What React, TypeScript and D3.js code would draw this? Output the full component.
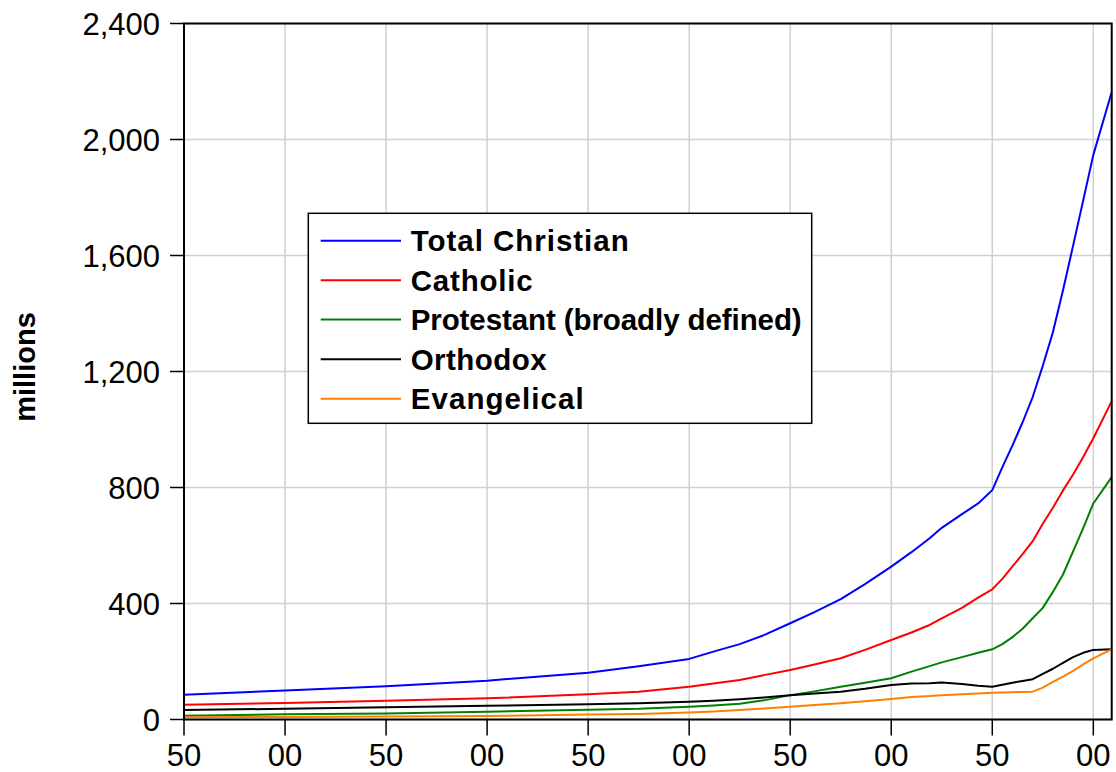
import React from "react";
import * as d3 from "d3";

const years = [1550, 1600, 1650, 1700, 1750, 1775, 1800, 1812, 1825, 1837, 1850, 1862, 1875, 1887, 1900, 1910, 1919, 1925, 1935, 1943, 1950, 1955, 1960, 1965, 1970, 1975, 1980, 1985, 1990, 1995, 2000, 2009];
const totalChristian = [85, 100, 115, 134, 161, 184, 209, 234, 260, 291, 332, 370, 415, 467, 527, 577, 625, 661, 708, 745, 791, 870, 945, 1025, 1112, 1220, 1335, 1480, 1634, 1790, 1947, 2161];
const catholic = [51, 57, 65, 73, 87, 96, 113, 124, 136, 153, 171, 190, 211, 240, 274, 300, 326, 349, 385, 420, 449, 485, 528, 570, 615, 675, 730, 790, 845, 905, 970, 1096];
const protestant = [13, 18, 21, 27, 34, 37, 44, 48, 54, 66, 84, 97, 113, 127, 142, 165, 184, 197, 215, 230, 242, 260, 284, 313, 349, 385, 440, 500, 580, 660, 745, 835];
const orthodox = [33, 37, 42, 47, 53, 56, 61, 65, 70, 76, 84, 90, 96, 106, 119, 124, 125, 128, 122, 116, 113, 120, 127, 133, 139, 157, 175, 195, 215, 230, 240, 242];
const evangelical = [8, 9, 10, 12, 17, 19, 24, 28, 33, 38, 44, 50, 56, 63, 71, 78, 81, 84, 87, 90, 92, 93, 94, 95, 96, 110, 130, 148, 168, 190, 211, 242];

const seriesNames = ["Total Christian", "Catholic", "Protestant (broadly defined)", "Orthodox", "Evangelical"];
const seriesColors = ["#0000ff", "#ff0000", "#008000", "#000000", "#ff8000"];
const seriesValues = [totalChristian, catholic, protestant, orthodox, evangelical];
const legendTextWidths = [218, 122, 391, 136, 173];

const xTicks = [1550, 1600, 1650, 1700, 1750, 1800, 1850, 1900, 1950, 2000];
const yTicks = [0, 400, 800, 1200, 1600, 2000, 2400];

export default function App() {
  const W = 1116, H = 772;
  const left = 184, right = 1111.7, top = 23.5, bottom = 719.5;
  const x = d3.scaleLinear().domain([1550, 2009.1]).range([left, right]);
  const y = d3.scaleLinear().domain([0, 2400]).range([bottom, top]);
  const fmt = d3.format(",");
  const font = "Arial, 'Liberation Sans', sans-serif";

  const line = d3
    .line<number>()
    .x((_, i) => x(years[i]))
    .y((d) => y(d));

  const legendX = 308.3, legendY = 213.3, legendW = 503.4, legendH = 210;
  const rowY = [240.7, 280.2, 319.5, 359.2, 398.7];

  return (
    <svg width={W} height={H} style={{ position: "absolute", left: 0, top: 0, background: "#fff" }}>
      <rect x={0} y={0} width={W} height={H} fill="#fff" />
      {xTicks.map((t) => (
        <line key={"gx" + t} x1={x(t)} x2={x(t)} y1={top} y2={bottom} stroke="#d0d0d0" strokeWidth={1.5} />
      ))}
      {yTicks.map((t) => (
        <line key={"gy" + t} x1={left} x2={right} y1={y(t)} y2={y(t)} stroke="#d0d0d0" strokeWidth={1.5} />
      ))}
      {seriesValues.map((vals, i) => (
        <path key={"s" + i} d={line(vals) || ""} fill="none" stroke={seriesColors[i]} strokeWidth={2} strokeLinejoin="round" />
      ))}
      <rect x={left} y={top} width={right - left} height={bottom - top} fill="none" stroke="#000" strokeWidth={2} />
      {xTicks.map((t) => (
        <g key={"xt" + t}>
          <line x1={x(t)} x2={x(t)} y1={bottom} y2={bottom + 16} stroke="#000" strokeWidth={1.5} />
          <text x={x(t)} y={766} textAnchor="middle" fontFamily={font} fontSize={31} fill="#000">
            {String(t % 100).padStart(2, "0")}
          </text>
        </g>
      ))}
      {yTicks.map((t) => (
        <g key={"yt" + t}>
          <line x1={left - 14} x2={left} y1={y(t)} y2={y(t)} stroke="#000" strokeWidth={1.5} />
          <text x={160} y={y(t)} dy="0.36em" textAnchor="end" fontFamily={font} fontSize={31} fill="#000">
            {fmt(t)}
          </text>
        </g>
      ))}
      <text
        transform={`translate(35,367) rotate(-90)`}
        textAnchor="middle"
        fontFamily={font}
        fontWeight="bold"
        fontSize={29}
        fill="#000"
      >
        millions
      </text>
      <rect x={legendX} y={legendY} width={legendW} height={legendH} fill="#fff" stroke="#000" strokeWidth={1.5} />
      {seriesNames.map((n, i) => (
        <g key={"lg" + i}>
          <line x1={320.7} x2={401} y1={rowY[i]} y2={rowY[i]} stroke={seriesColors[i]} strokeWidth={2} />
          <text
            x={410.7}
            y={rowY[i]}
            dy="0.36em"
            fontFamily={font}
            fontWeight="bold"
            fontSize={29.5}
            fill="#000"
            textLength={legendTextWidths[i]}
            lengthAdjust="spacing"
          >
            {n}
          </text>
        </g>
      ))}
    </svg>
  );
}
